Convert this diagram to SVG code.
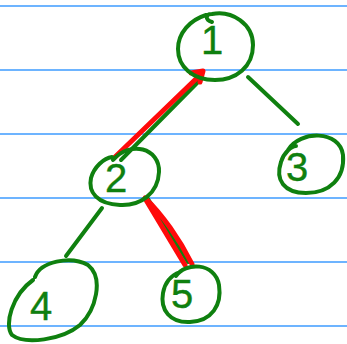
<svg xmlns="http://www.w3.org/2000/svg" width="347" height="344" viewBox="0 0 347 344">
  <style>
    .rule { stroke: #3d9bff; stroke-width: 1.6; }
    .ink { fill: none; stroke: #0f800f; stroke-width: 4; stroke-linecap: round; stroke-linejoin: round; }
    .hl { fill: none; stroke: #ff0a0a; stroke-width: 5; stroke-linecap: round; stroke-linejoin: round; }
    .digit { font-family: "Liberation Sans", "DejaVu Sans", sans-serif; font-size: 40px; fill: #0f800f; stroke: #0f800f; stroke-width: 0.4; text-anchor: middle; }
  </style>
  <rect width="347" height="344" fill="#ffffff"/>
  <!-- ruled paper -->
  <g id="paper">
    <line class="rule" x1="0" y1="6" x2="347" y2="6"/>
    <line class="rule" x1="0" y1="70" x2="347" y2="70"/>
    <line class="rule" x1="0" y1="134" x2="347" y2="134"/>
    <line class="rule" x1="0" y1="198" x2="347" y2="198"/>
    <line class="rule" x1="0" y1="262" x2="347" y2="262"/>
    <line class="rule" x1="0" y1="326" x2="347" y2="326"/>
  </g>
  <!-- tree edges -->
  <g id="edges">
    <path class="ink" d="M202,78 L121,160"/>
    <path class="ink" d="M248,77 L298,124"/>
    <path class="ink" d="M102,208 L66,256"/>
    <path class="ink" d="M148,199 L188,262"/>
    <!-- traced path -->
    <path class="hl" d="M114,158 L199,76"/>
    <path class="hl" d="M191,73 L203,71 L200,82"/>
    <path class="hl" stroke-width="4" d="M146,200 L185,265 M145,198 C162,214 180,240 192,264"/>
  </g>
  <g id="node1">
    <path class="ink" d="M212,22 C205,20 205,14 212,14 C232,10 253,24 253,45 C253,67 236,80 215,80 C193,80 178,67 178,49 C178,33 190,20 206,15"/>
    <text class="digit" x="212" y="54">1</text>
  </g>
  <g id="node2">
    <path class="ink" d="M113,160 C130,140 160,148 159,172 C158,194 140,206 120,205 C97,204 88,192 91,178 C94,167 104,158 112,157"/>
    <text class="digit" x="116" y="192">2</text>
  </g>
  <g id="node3">
    <path class="ink" d="M288,150 C300,130 340,130 343,155 C345,178 330,193 306,193 C284,193 275,180 281,162 C284,152 292,146 296,146"/>
    <text class="digit" x="297" y="181">3</text>
  </g>
  <g id="node4">
    <path class="ink" d="M35,277 C40,262 70,255 88,265 C104,278 96,310 80,325 C62,340 25,345 12,335 C4,325 12,295 33,280"/>
    <text class="digit" x="41" y="320">4</text>
  </g>
  <g id="node5">
    <path class="ink" d="M176,276 C185,262 215,262 219,285 C222,305 212,321 190,322 C170,323 160,310 163,293 C165,282 172,275 180,272"/>
    <text class="digit" x="182" y="308">5</text>
  </g>
</svg>
